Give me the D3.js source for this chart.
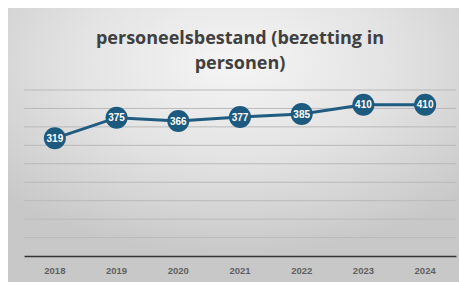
<!DOCTYPE html>
<html>
<head>
<meta charset="utf-8">
<script src="https://cdn.jsdelivr.net/npm/d3@7"></script>
<style>
  body { margin: 0; background: #fff; }
  svg { display: block; }
</style>
</head>
<body>
<svg id="chart"></svg>
<script>
const years = ["2018", "2019", "2020", "2021", "2022", "2023", "2024"];
const staff = [319, 375, 366, 377, 385, 410, 410];
const gridValues = [0, 50, 100, 150, 200, 250, 300, 350, 400, 450];
const titleLines = ["personeelsbestand (bezetting in", "personen)"];

const width = 459;
const height = 282;

const svg = d3.select("#chart")
    .attr("width", width)
    .attr("height", height);

// background panel with soft radial gradient
const defs = svg.append("defs");
const grad = defs.append("radialGradient")
    .attr("id", "bg")
    .attr("cx", "50%").attr("cy", "20%").attr("r", "70%");
grad.append("stop").attr("offset", "0%").attr("stop-color", "#f5f5f5");
grad.append("stop").attr("offset", "50%").attr("stop-color", "#e3e3e3");
grad.append("stop").attr("offset", "100%").attr("stop-color", "#c8c8c8");

svg.append("rect")
    .attr("x", 8).attr("y", 8)
    .attr("width", width - 8).attr("height", height - 8)
    .attr("fill", "url(#bg)");

const x = d3.scaleBand()
    .domain(years)
    .range([24, 456]);

const y = d3.scaleLinear()
    .domain([0, 450])
    .range([256, 90]);

// gridlines
svg.append("g")
    .selectAll("line")
    .data(gridValues.filter(v => v > 0))
    .enter()
    .append("line")
    .attr("x1", 24).attr("x2", 456)
    .attr("y1", v => y(v)).attr("y2", v => y(v))
    .attr("stroke", "#b9b9b9")
    .attr("stroke-width", 1);

// x axis
const xAxis = svg.append("g")
    .attr("transform", `translate(0,${y(0)})`)
    .call(d3.axisBottom(x).tickSize(0).tickPadding(11));
xAxis.select(".domain")
    .attr("stroke", "#333")
    .attr("stroke-width", 1.5);
xAxis.selectAll("text")
    .attr("fill", "#606060")
    .style("font-family", "'Liberation Sans', Arial, sans-serif")
    .style("font-weight", "bold")
    .style("font-size", "9.5px");

// title, two lines
svg.append("g")
    .selectAll("text")
    .data(titleLines)
    .enter()
    .append("text")
    .attr("x", 240)
    .attr("y", (d, i) => 43.5 + i * 25)
    .attr("text-anchor", "middle")
    .attr("fill", "#404040")
    .style("font-family", "'Open Sans', sans-serif")
    .style("font-weight", "bold")
    .style("font-size", "18px")
    .text(d => d);

// line
const cx = d => x(d) + x.bandwidth() / 2;
const line = d3.line()
    .x((d, i) => cx(years[i]))
    .y(d => y(d));

svg.append("path")
    .datum(staff)
    .attr("d", line)
    .attr("fill", "none")
    .attr("stroke", "#1f5c80")
    .attr("stroke-width", 3);

// markers
const pts = svg.append("g")
    .selectAll("g")
    .data(staff)
    .enter()
    .append("g")
    .attr("transform", (d, i) => `translate(${cx(years[i])},${y(d)})`);

pts.append("circle")
    .attr("r", 11)
    .attr("fill", "#1c5a80");

pts.append("text")
    .attr("text-anchor", "middle")
    .attr("dy", "0.36em")
    .attr("fill", "#fff")
    .style("font-family", "'Liberation Sans', Arial, sans-serif")
    .style("font-weight", "bold")
    .style("font-size", "10px")
    .text(d => d);
</script>
</body>
</html>
